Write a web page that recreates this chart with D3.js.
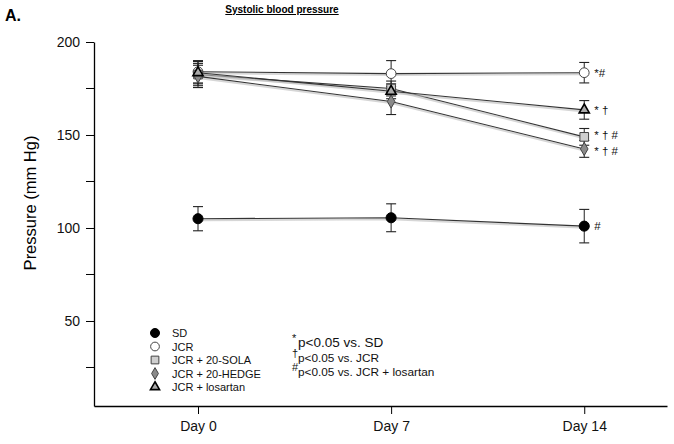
<!DOCTYPE html>
<html>
<head>
<meta charset="utf-8">
<script src="https://cdn.jsdelivr.net/npm/d3@7"></script>
<style>
  body { margin: 0; background: #fff; }
  svg { font-family: Arial, "Liberation Sans", sans-serif; }
</style>
</head>
<body>
<div id="chart"></div>
<script>
// data
const days = [0, 7, 14]
const dayLabels = ["Day 0", "Day 7", "Day 14"]
const groups = ["SD", "JCR", "JCR + 20-SOLA", "JCR + 20-HEDGE", "JCR + losartan"]
const sdMean = [105, 105.5, 101]
const sdErr = [6.5, 7.5, 9]
const jcrMean = [184, 183, 183.5]
const jcrErr = [6, 7, 5.5]
const solaMean = [182.5, 175, 149]
const solaErr = [6, 4, 4.5]
const hedgeMean = [181.5, 168, 142.5]
const hedgeErr = [6, 7, 4.5]
const losMean = [183.5, 173.5, 163.5]
const losErr = [6, 4, 5]
const sigDay14 = ["#", "*#", "* \u2020 #", "* \u2020 #", "* \u2020"]
const yTicks = [50, 100, 150, 200]
const yMinor = [25, 75, 125, 175]
const footnotes = [
    { mark: "*", text: "p<0.05 vs. SD" },
    { mark: "\u2020", text: "p<0.05 vs. JCR" },
    { mark: "#", text: "p<0.05 vs. JCR + losartan" }
]

const series = [
    { name: groups[0], mean: sdMean, err: sdErr, symbol: d3.symbolCircle, size: 80, fill: "#000", stroke: "#000" },
    { name: groups[1], mean: jcrMean, err: jcrErr, symbol: d3.symbolCircle, size: 75, fill: "#fff", stroke: "#444" },
    { name: groups[2], mean: solaMean, err: solaErr, symbol: d3.symbolSquare, size: 75, fill: "#cfcfcf", stroke: "#444" },
    { name: groups[3], mean: hedgeMean, err: hedgeErr, symbol: d3.symbolDiamond, size: 50, fill: "#8a8a8a", stroke: "#444" },
    { name: groups[4], mean: losMean, err: losErr, symbol: d3.symbolTriangle, size: 45, fill: "#aaa", stroke: "#000" }
]
// small vertical nudges so the day-14 labels of close points do not collide
const sigNudge = [0, 0, -2, 2, 0]

const width = 674
const height = 444

const svg = d3.select("#chart")
    .append("svg")
    .attr("width", width)
    .attr("height", height)

const xScale = d3.scaleLinear()
    .domain([-3.77, 17])
    .range([94, 667])

const yScale = d3.scaleLinear()
    .domain([4.3, 200])
    .range([406, 42])

// y axis
const yAxis = svg.append("g")
    .attr("transform", "translate(94,0)")
    .call(d3.axisLeft(yScale).tickValues(yTicks).tickSize(8).tickSizeOuter(0))
yAxis.select(".domain").attr("stroke-width", 1.3)
yAxis.selectAll("text")
    .attr("font-size", 14)
    .attr("fill", "#111")
    .attr("x", -14)
    .style("font-family", "Arial, 'Liberation Sans', sans-serif")

svg.append("g")
    .selectAll("line")
    .data(yMinor)
    .enter().append("line")
    .attr("x1", 86)
    .attr("x2", 94)
    .attr("y1", d => yScale(d))
    .attr("y2", d => yScale(d))
    .attr("stroke", "#000")

// x axis
const xAxis = svg.append("g")
    .attr("transform", `translate(0,${yScale(4.3)})`)
    .call(d3.axisBottom(xScale).tickValues(days).tickSize(8).tickSizeOuter(0)
        .tickFormat((d, i) => dayLabels[i]))
xAxis.select(".domain").attr("stroke-width", 1.3)
xAxis.selectAll("text")
    .attr("font-size", 14)
    .attr("fill", "#111")
    .attr("y", 15)
    .style("font-family", "Arial, 'Liberation Sans', sans-serif")

// titles
svg.append("text")
    .attr("x", 5)
    .attr("y", 21)
    .attr("font-size", 16)
    .attr("font-weight", "bold")
    .text("A.")

svg.append("text")
    .attr("x", 282)
    .attr("y", 13)
    .attr("text-anchor", "middle")
    .attr("font-size", 10)
    .attr("font-weight", "bold")
    .attr("text-decoration", "underline")
    .text("Systolic blood pressure")

svg.append("text")
    .attr("transform", `translate(36,${(yScale(200) + yScale(4.3)) / 2 - 21}) rotate(-90)`)
    .attr("text-anchor", "middle")
    .attr("font-size", 16.5)
    .text("Pressure (mm Hg)")

// lines
const lineGenerator = d3.line()
    .x((d, i) => xScale(days[i]))
    .y(d => yScale(d))

const plot = svg.append("g")

series.forEach(s => {
    plot.append("path")
        .attr("d", lineGenerator(s.mean))
        .attr("transform", "translate(0,1.5)")
        .attr("fill", "none")
        .attr("stroke", "#bbb")
        .attr("stroke-opacity", 0.6)
        .attr("stroke-width", 2)
    plot.append("path")
        .attr("d", lineGenerator(s.mean))
        .attr("fill", "none")
        .attr("stroke", "#333")
        .attr("stroke-width", 1.1)
})

// error bars
series.forEach(s => {
    const g = plot.append("g")
    s.mean.forEach((m, i) => {
        const cx = xScale(days[i])
        const top = yScale(m + s.err[i])
        const bot = yScale(m - s.err[i])
        g.append("line").attr("x1", cx).attr("x2", cx).attr("y1", top).attr("y2", bot)
            .attr("stroke", "#222").attr("stroke-width", 1)
        g.append("line").attr("x1", cx - 5).attr("x2", cx + 5).attr("y1", top).attr("y2", top)
            .attr("stroke", "#222").attr("stroke-width", 1.1)
        g.append("line").attr("x1", cx - 5).attr("x2", cx + 5).attr("y1", bot).attr("y2", bot)
            .attr("stroke", "#222").attr("stroke-width", 1.1)
    })
})

// markers
series.forEach(s => {
    plot.append("g")
        .selectAll("path")
        .data(s.mean)
        .enter().append("path")
        .attr("transform", (d, i) => `translate(${xScale(days[i])},${yScale(d)})`)
        .attr("d", d3.symbol().type(s.symbol).size(s.size))
        .attr("fill", s.fill)
        .attr("stroke", s.stroke)
        .attr("stroke-width", s.symbol === d3.symbolTriangle ? 1.6 : 1)
})

// significance marks at day 14
series.forEach((s, i) => {
    svg.append("text")
        .attr("x", xScale(14) + 10)
        .attr("y", yScale(s.mean[2]) + 4 + sigNudge[i])
        .attr("font-size", 11.5)
        .attr("fill", "#111")
        .text(sigDay14[i])
})

// legend
const legend = svg.append("g")
    .selectAll("g")
    .data(series)
    .enter().append("g")
    .attr("transform", (d, i) => `translate(155,${333 + i * 13.5})`)

legend.append("path")
    .attr("d", d => d3.symbol().type(d.symbol).size(d.size * 0.8)())
    .attr("fill", d => d.fill)
    .attr("stroke", d => d.stroke)
    .attr("stroke-width", d => d.symbol === d3.symbolTriangle ? 1.6 : 1)

legend.append("text")
    .attr("x", 17)
    .attr("y", 4)
    .attr("font-size", 11)
    .attr("fill", "#111")
    .text(d => d.name)

const notes = svg.append("g")
    .selectAll("g")
    .data(footnotes)
    .enter().append("g")
    .attr("transform", (d, i) => `translate(292,${347 + i * 14.5})`)

notes.append("text")
    .attr("x", 0)
    .attr("y", -5)
    .attr("font-size", 11)
    .attr("fill", "#111")
    .text(d => d.mark)

notes.append("text")
    .attr("x", 6)
    .attr("y", 0)
    .attr("font-size", (d, i) => i === 0 ? 13.5 : 11.8)
    .attr("fill", "#111")
    .text(d => d.text)
</script>
</body>
</html>
